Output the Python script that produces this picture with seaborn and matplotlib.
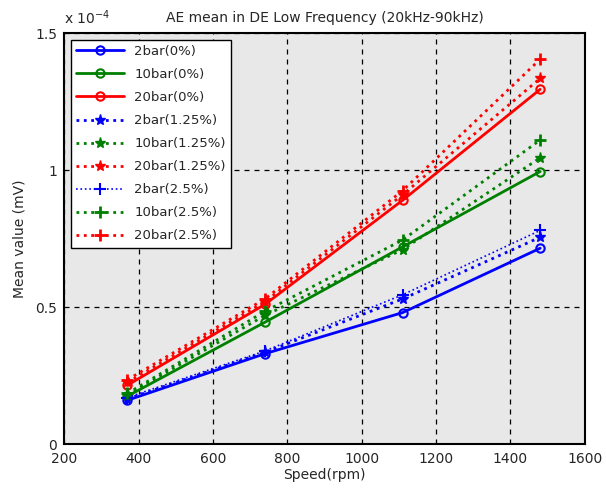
import matplotlib
matplotlib.use("Agg")
import matplotlib.pyplot as plt
import seaborn as sns
import pandas as pd

# speeds (rpm) and mean values (x 1e-4 mV)
speed = [370, 740, 1110, 1480]

bar2_0 = [0.16, 0.33, 0.48, 0.715]
bar10_0 = [0.175, 0.445, 0.72, 0.995]
bar20_0 = [0.215, 0.51, 0.89, 1.295]
bar2_125 = [0.165, 0.335, 0.53, 0.755]
bar10_125 = [0.18, 0.47, 0.71, 1.045]
bar20_125 = [0.225, 0.52, 0.91, 1.335]
bar2_25 = [0.17, 0.34, 0.545, 0.78]
bar10_25 = [0.185, 0.485, 0.745, 1.11]
bar20_25 = [0.235, 0.53, 0.925, 1.405]

labels = ["2bar(0%)", "10bar(0%)", "20bar(0%)",
          "2bar(1.25%)", "10bar(1.25%)", "20bar(1.25%)",
          "2bar(2.5%)", "10bar(2.5%)", "20bar(2.5%)"]
series = [bar2_0, bar10_0, bar20_0,
          bar2_125, bar10_125, bar20_125,
          bar2_25, bar10_25, bar20_25]

blue, green, red = "#0000ff", "#008000", "#ff0000"
colors = [blue, green, red] * 3
styles = [
    dict(linestyle="-", marker="o", markerfacecolor="none", markersize=6, markeredgewidth=1.5, linewidth=2),
    dict(linestyle=":", marker="*", markersize=8, markeredgewidth=1, linewidth=2),
    dict(linestyle=":", marker="+", markersize=8, markeredgewidth=2, linewidth=2),
]

sns.set_style("white")
plt.rcParams["font.family"] = ["DejaVu Sans"]

fig, ax = plt.subplots(figsize=(6.06, 4.88), dpi=100)
fig.subplots_adjust(left=0.106, right=0.965, bottom=0.09, top=0.932)
ax.set_facecolor("#e8e8e8")

for i, (lab, vals) in enumerate(zip(labels, series)):
    df = pd.DataFrame({"speed": speed, "value": vals})
    kw = dict(styles[i // 3])
    if lab == "2bar(2.5%)":
        kw["linewidth"] = 1.2
        kw["markeredgewidth"] = 1.5
    sns.lineplot(data=df, x="speed", y="value", color=colors[i], label=lab,
                 ax=ax, markeredgecolor=colors[i], **kw)

ax.set_xlim(200, 1600)
ax.set_ylim(0, 1.5)
ax.set_xticks(range(200, 1601, 200))
ax.set_yticks([0, 0.5, 1, 1.5])
ax.set_yticklabels(["0", "0.5", "1", "1.5"])
ax.tick_params(direction="in", labelsize=10, length=4, color="black")
ax.tick_params(axis="x", pad=6)
ax.tick_params(axis="y", pad=5)
for s in ax.spines.values():
    s.set_color("black")
    s.set_linewidth(1.5)
ax.grid(True, color="black", linestyle=(0, (4, 4)), linewidth=0.9)

ax.set_title("AE mean in DE Low Frequency (20kHz-90kHz)", fontsize=10, pad=8)
ax.set_xlabel("Speed(rpm)", fontsize=10, labelpad=1)
ax.set_ylabel("Mean value (mV)", fontsize=10, labelpad=6)
ax.text(0.0, 1.015, r"x 10$^{-4}$", transform=ax.transAxes, fontsize=10,
        ha="left", va="bottom")

leg = ax.legend(loc="upper left", fontsize=9.5, handlelength=3.6,
                frameon=True, fancybox=False, edgecolor="black",
                framealpha=1, borderaxespad=0.5, labelspacing=0.76)
leg.get_frame().set_linewidth(1)

fig.savefig("out.png", dpi=100)
